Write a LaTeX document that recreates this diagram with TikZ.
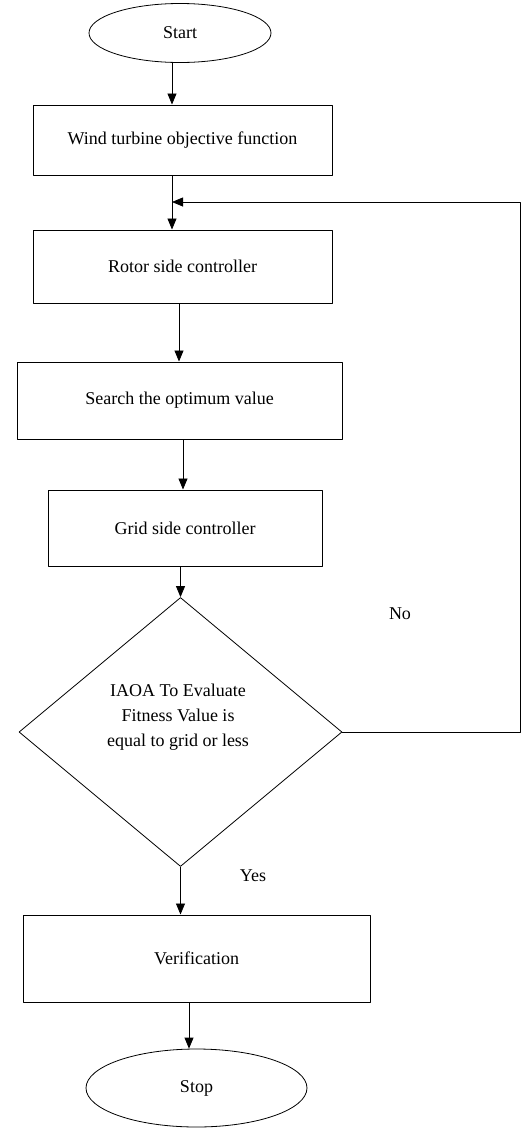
\documentclass[tikz,border=0pt]{standalone}
\usepackage{fontspec}
\setmainfont{Liberation Serif}
\usetikzlibrary{shapes.geometric,arrows.meta}
\begin{document}
\begin{tikzpicture}[x=1pt,y=-1pt,line join=round,>={Triangle[length=11pt,width=9pt]},line width=0.8pt]
	\tikzset{every node/.style={font=\fontsize{18}{25}\selectfont,inner sep=0pt},
		term/.style={draw,ellipse},
		box/.style={draw,line width=1pt},
		decide/.style={draw,diamond}}
	\useasboundingbox (0,0) rectangle (531,1128);
	\node[term,minimum width=182pt,minimum height=59pt] (start) at (180,33) {Start};
	\node[box,minimum width=299pt,minimum height=70pt] (box1) at (182.5,140) {Wind turbine objective function};
	\node[box,minimum width=299pt,minimum height=73pt] (box2) at (182.5,266.5) {Rotor side controller};
	\node[box,minimum width=325pt,minimum height=77pt] (box3) at (179.5,400.5) {Search the optimum value};
	\node[box,minimum width=274pt,minimum height=76pt] (box4) at (185,528) {Grid side controller};
	\node[decide,minimum width=323pt,minimum height=269pt] (dec) at (180.5,732) {};
	\node[align=center] (dectext) at (178,717) {IAOA To Evaluate\\Fitness Value is\\equal to grid or less};
	\node[box,minimum width=347pt,minimum height=87pt] (box5) at (196.5,958.5) {Verification};
	\node[term,minimum width=221pt,minimum height=78pt] (stop) at (196.5,1088) {Stop};
	\node (no) at (400,614) {No};
	\node (yes) at (253,876) {Yes};
	\coordinate (join) at (172,202);
	% main flow
	\draw[->] (start.south -| 172,0) -- (box1.north -| 172,0);
	\draw[->] (box1.south -| 172,0) -- (box2.north -| 172,0);
	\draw[->] (box2.south -| 179,0) -- (box3.north -| 179,0);
	\draw[->] (box3.south -| 183,0) -- (box4.north -| 183,0);
	\draw[->] (box4.south -| dec.north) -- (dec.north);
	\draw[->] (dec.south) -- (box5.north -| dec.south);
	\draw[->] (box5.south -| 189,0) -- (stop.north -| 189,0);
	% loop back
	\draw[->] (dec.east) -- ++(178,0) |- (join);
\end{tikzpicture}
\end{document}
